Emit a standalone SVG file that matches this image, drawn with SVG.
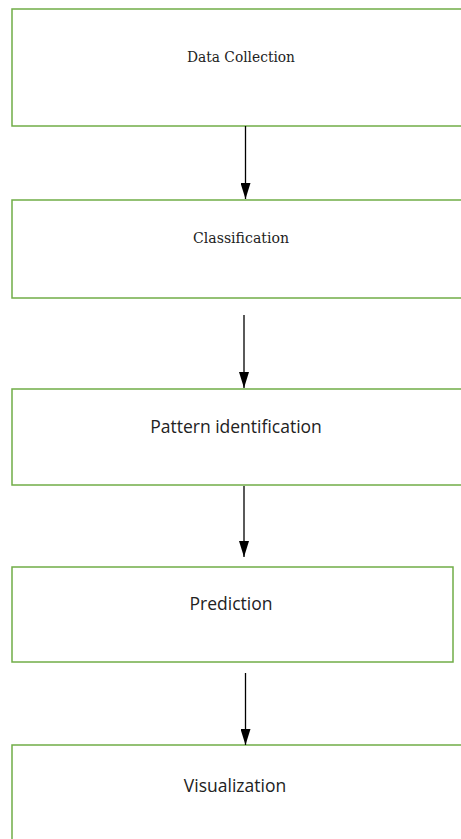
<svg xmlns="http://www.w3.org/2000/svg" width="461" height="839" viewBox="0 0 461 839">
<style>
.box{fill:#ffffff;stroke:#70AD47;stroke-width:1.5}
.serif{font-family:"DejaVu Serif Condensed","DejaVu Serif","Liberation Serif",serif;font-size:15px;fill:#222;text-anchor:middle}
.sans{font-family:"Open Sans","Noto Sans","DejaVu Sans",sans-serif;font-size:17.5px;fill:#222;text-anchor:middle}
.conn{stroke:#000;stroke-width:1.3;fill:none;marker-end:url(#ah)}
</style>
<defs>
<marker id="ah" markerWidth="16" markerHeight="10" refX="16" refY="5" orient="auto" markerUnits="userSpaceOnUse" viewBox="0 0 16 10">
<path d="M0,0 L16,5 L0,10 Z" fill="#000"/>
</marker>
</defs>
<rect width="461" height="839" fill="#ffffff"/>
<g id="n1"><rect class="box" x="12" y="9" width="460" height="117"/><text class="serif" x="241" y="62" textLength="108" lengthAdjust="spacingAndGlyphs">Data Collection</text></g>
<g id="n2"><rect class="box" x="12" y="200" width="460" height="98"/><text class="serif" x="241" y="243" textLength="96" lengthAdjust="spacingAndGlyphs">Classification</text></g>
<g id="n3"><rect class="box" x="12" y="389" width="460" height="96"/><text class="sans" x="236" y="433">Pattern identification</text></g>
<g id="n4"><rect class="box" x="12" y="567" width="441" height="95"/><text class="sans" x="231" y="610">Prediction</text></g>
<g id="n5"><rect class="box" x="12" y="745" width="460" height="110"/><text class="sans" x="235" y="792">Visualization</text></g>
<g id="connectors">
<line class="conn" x1="245.5" y1="126" x2="245.5" y2="199"/>
<line class="conn" x1="244" y1="315" x2="244" y2="388"/>
<line class="conn" x1="244" y1="486" x2="244" y2="557"/>
<line class="conn" x1="245.5" y1="673" x2="245.5" y2="745"/>
</g>
</svg>
